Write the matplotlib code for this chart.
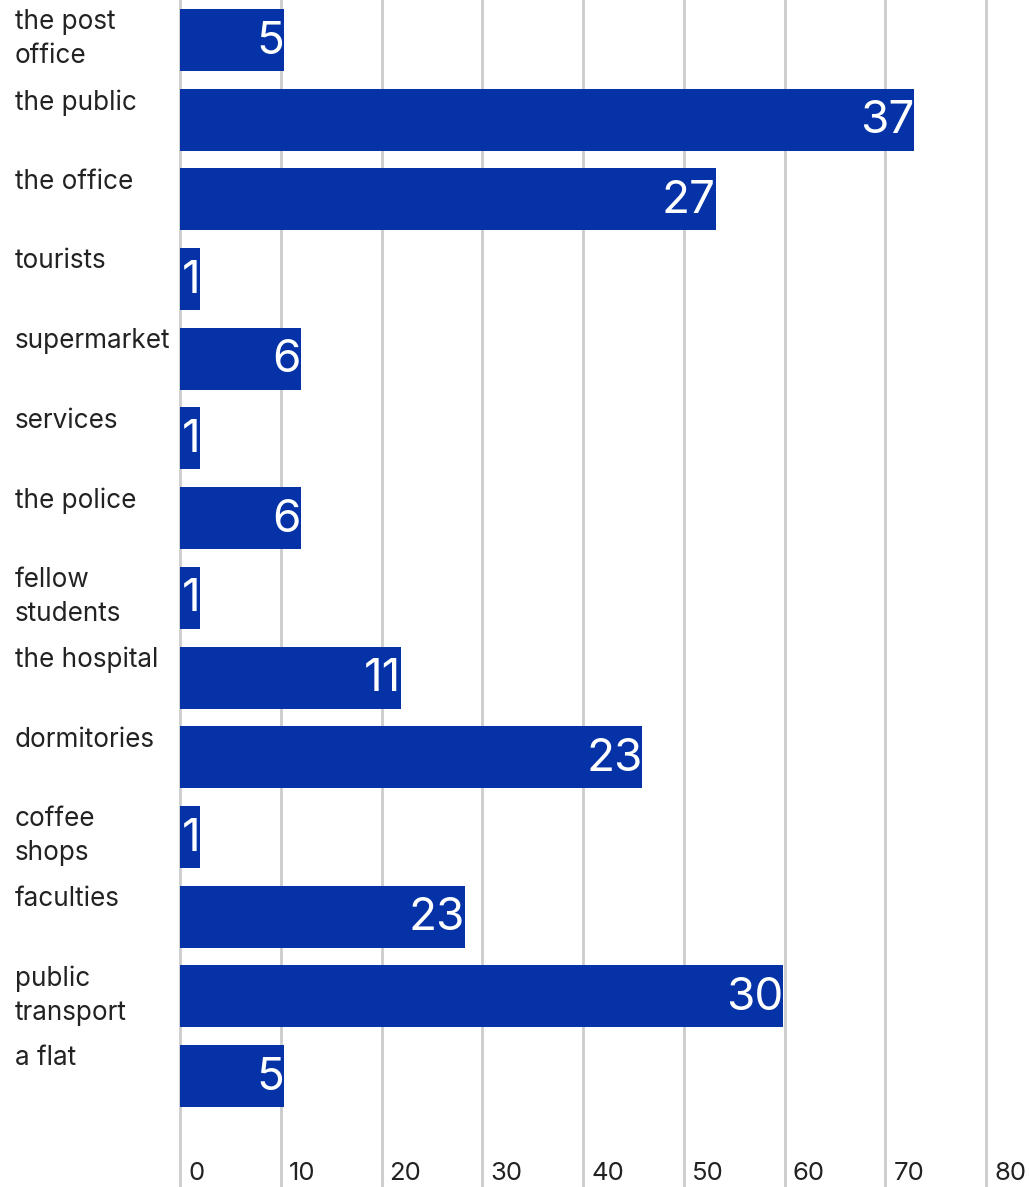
import matplotlib
matplotlib.use("Agg")
import matplotlib.pyplot as plt
from matplotlib.transforms import blended_transform_factory

categories = ["the post\noffice", "the public", "the office", "tourists", "supermarket",
              "services", "the police", "fellow\nstudents", "the hospital", "dormitories",
              "coffee\nshops", "faculties", "public\ntransport", "a flat"]
bar_values = [10.3, 72.9, 53.2, 2.0, 12.0, 2.0, 12.0, 2.0, 21.9, 45.9, 2.0, 28.3, 59.9, 10.3]
bar_labels = ["5", "37", "27", "1", "6", "1", "6", "1", "11", "23", "1", "23", "30", "5"]
x_ticks = [0, 10, 20, 30, 40, 50, 60, 70, 80]

W, H = 1029, 1187
plt.rcParams['font.family'] = ['Inter', 'DejaVu Sans']
fig = plt.figure(figsize=(W / 100, H / 100), dpi=100)
x0, x80 = 180, 986
ax = fig.add_axes([x0 / W, 0, (x80 - x0) / W, 1])
ax.set_xlim(0, 80)
pitch = 79.7
first_center = 40
ax.set_ylim((H - first_center) / pitch, -first_center / pitch)
ax.axis('off')

for t in x_ticks:
    ax.axvline(t, color='#cccccc', lw=2, zorder=0, clip_on=False)

bar_h = 62 / pitch
n = len(categories)
bars = ax.barh(range(n), bar_values, height=bar_h, color='#0533a7', zorder=2)

for i, (rect, lab) in enumerate(zip(bars, bar_labels)):
    t = ax.text(bar_values[i], i + 0.02, lab, ha='right', va='center', color='white',
                fontsize=33, zorder=3)
    t.set_clip_path(rect)

trans = blended_transform_factory(fig.transFigure, ax.transData)
for i, cat in enumerate(categories):
    ax.text(15 / W, i - bar_h / 2 + 0.005, cat, transform=trans, ha='left', va='top',
            fontsize=18.8, color='#222222', linespacing=1.38)

tick_trans = blended_transform_factory(ax.transData, fig.transFigure)
for t in x_ticks:
    ax.text(t + 0.8, 1 - 1173 / H, str(t), transform=tick_trans, ha='left', va='center',
            fontsize=18.5, color='#222222')

fig.savefig("out.png", dpi=100)
